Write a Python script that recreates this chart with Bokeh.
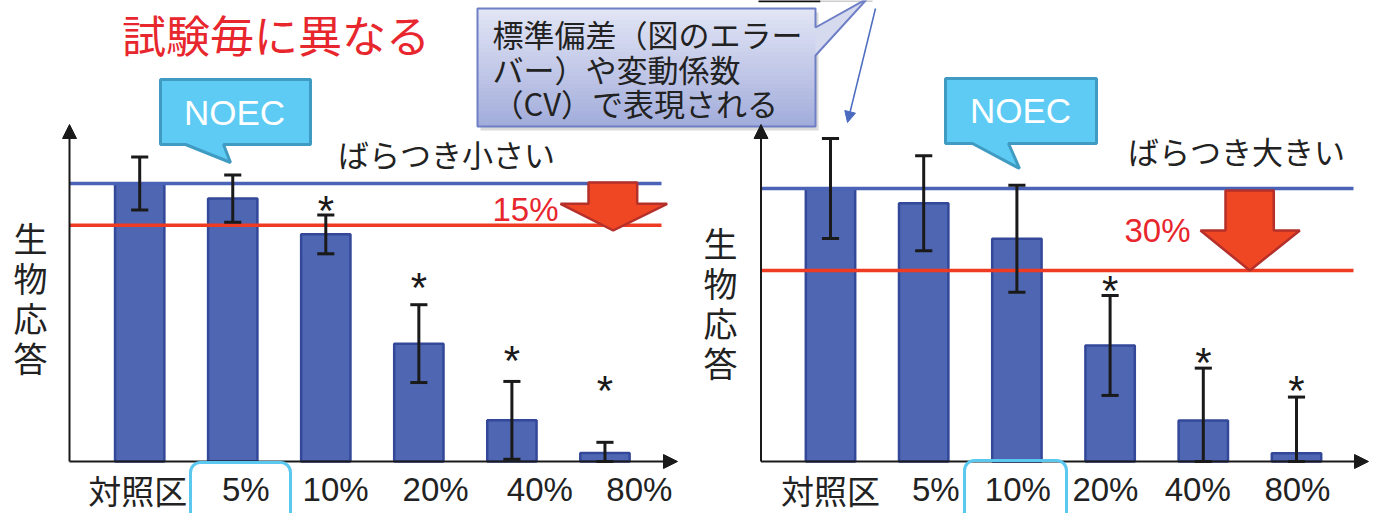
import numpy as np
from bokeh.plotting import figure
from bokeh.models import Range1d, Arrow, NormalHead, BoxAnnotation, ColumnDataSource
from bokeh.core.properties import value
from bokeh.embed import file_html
from bokeh.resources import INLINE

# ---------------- data ----------------
categories = ["対照区", "5%", "10%", "20%", "40%", "80%"]
mean_small = [100, 94.6, 81.7, 42.4, 14.8, 3.1]
sd_small = [9.5, 8.5, 7.0, 14.0, 14.0, 3.8]
star_small = [None, None, 92.8, 65.0, 38.8, 28.0]
mean_large = [100, 94.6, 81.6, 42.5, 15.0, 3.0]
sd_large = [18.3, 17.4, 19.6, 18.3, 19.2, 20.6]
star_large = [None, None, None, 65.2, 38.8, 28.6]
control_level = 100
threshold_small = 85   # 15% reduction
threshold_large = 70   # 30% reduction
ylabel_text = "生物応答"
title_text = "試験毎に異なる"
small_text = "ばらつき小さい"
large_text = "ばらつき大きい"
small_pct = "15%"
large_pct = "30%"
noec_text = "NOEC"
note_lines = ["標準偏差（図のエラー", "バー）や変動係数", "（CV）で表現される"]

# ---------------- layout / style ----------------
JP = "Noto Sans CJK JP"
LAT = "Liberation Sans"
BAR_FILL = "#4F67B2"
BAR_LINE = "#34489A"
BLUE_LINE = "#4A63B6"
RED_LINE = "#EE3B22"
TEXT = "#222222"
RED_TEXT = "#E8262D"

W, H = 1380, 513
X0, Y0 = 0, 0

p = figure(width=W, height=H, x_range=Range1d(X0, X0 + W), y_range=Range1d(Y0 + H, Y0),
           output_backend="svg", toolbar_location=None, min_border=0,
           x_axis_type=None, y_axis_type=None, outline_line_color=None,
           background_fill_color="white", border_fill_color="white")

panels = [
    dict(key="L", mean=mean_small, sd=sd_small, star=star_small, thr=threshold_small,
         x0=139.2, dx=93.05, base=461, sy=2.78, axis_x=69, axis_end=677, line_end=661,
         label_shift=[-0.02, 0.14, 0.105, 0.18, 0.30, 0.37], ylabel_x=30, ylabel_c=297,
         box=(190, 290, 462)),
    dict(key="R", mean=mean_large, sd=sd_large, star=star_large, thr=threshold_large,
         x0=830, dx=93.2, base=461, sy=2.73, axis_x=760.5, axis_end=1368, line_end=1353,
         label_shift=[0.0, 0.13, 0.01, -0.05, -0.06, 0.01], ylabel_x=720, ylabel_c=302,
         box=(964, 1066, 460)),
]

for pn in panels:
    k = pn["key"]
    xr, yr = k + "x", k + "y"
    p.extra_x_ranges[xr] = Range1d((X0 - pn["x0"]) / pn["dx"], (X0 + W - pn["x0"]) / pn["dx"])
    p.extra_y_ranges[yr] = Range1d((pn["base"] - (Y0 + H)) / pn["sy"], (pn["base"] - Y0) / pn["sy"])

    idx = np.arange(len(categories))
    mean = np.array(pn["mean"], dtype=float)
    sd = np.array(pn["sd"], dtype=float)
    lo = np.clip(mean - sd, 0, None)
    hi = mean + sd

    # bars
    p.vbar(x=idx, top=mean, bottom=0, width=0.53, fill_color=BAR_FILL, line_color=BAR_LINE,
           line_width=2.5, x_range_name=xr, y_range_name=yr)

    # axes
    p.add_layout(Arrow(x_start=pn["axis_x"], y_start=pn["base"], x_end=pn["axis_x"], y_end=124,
                       line_color="#1a1a1a", line_width=2,
                       end=NormalHead(size=14, fill_color="#1a1a1a", line_color="#1a1a1a")))
    p.add_layout(Arrow(x_start=pn["axis_x"], y_start=pn["base"], x_end=pn["axis_end"], y_end=pn["base"],
                       line_color="#1a1a1a", line_width=2,
                       end=NormalHead(size=14, fill_color="#1a1a1a", line_color="#1a1a1a")))

    # reference lines
    p.segment(x0=[pn["axis_x"]], x1=[pn["line_end"]], y0=[control_level], y1=[control_level],
              line_color=BLUE_LINE, line_width=3.5, y_range_name=yr)
    p.segment(x0=[pn["axis_x"]], x1=[pn["line_end"]], y0=[pn["thr"]], y1=[pn["thr"]],
              line_color=RED_LINE, line_width=3.5, y_range_name=yr)

    # error bars
    cap = 0.092
    p.segment(x0=idx, x1=idx, y0=lo, y1=hi, line_color="#1a1a1a", line_width=3,
              x_range_name=xr, y_range_name=yr)
    p.segment(x0=idx - cap, x1=idx + cap, y0=hi, y1=hi, line_color="#1a1a1a", line_width=3,
              x_range_name=xr, y_range_name=yr)
    p.segment(x0=idx - cap, x1=idx + cap, y0=lo, y1=lo, line_color="#1a1a1a", line_width=3,
              x_range_name=xr, y_range_name=yr)

    # asterisks
    sx = [i for i, s in enumerate(pn["star"]) if s is not None]
    syv = [s for s in pn["star"] if s is not None]
    p.text(x=sx, y=syv, text=["*"] * len(sx), text_font=value(LAT), text_font_size="42px",
           text_align="center", text_baseline="alphabetic", y_offset=7, text_color="#1a1a1a",
           x_range_name=xr, y_range_name=yr)

    # category labels
    src = ColumnDataSource(dict(
        x=idx + np.array(pn["label_shift"]), y=[489] * len(categories), t=categories,
        f=[JP if any(ord(c) > 255 for c in c_) else LAT for c_ in categories]))
    p.text(x="x", y="y", text="t", source=src, text_font="f", text_font_size="33px",
           text_align="center", text_baseline="middle", text_color=TEXT, x_range_name=xr)

    # y label (vertical)
    chars = list(ylabel_text)
    n = len(chars)
    p.text(x=[pn["ylabel_x"]] * n, y=[pn["ylabel_c"] + (j - (n - 1) / 2) * 40 for j in range(n)],
           text=chars, text_font=value(JP), text_font_size="34px", text_align="center",
           text_baseline="middle", text_color=TEXT)

    # highlighted label box
    b = pn["box"]
    p.add_layout(BoxAnnotation(left=b[0], right=b[1], top=b[2], bottom=b[2] + 80,
                               border_radius=10, fill_alpha=0, line_color="#5BC8F0",
                               line_alpha=1.0, line_width=3))

# red down arrows
arrows = [
    [(588, 182), (636.7, 182), (636.7, 203.3), (666.7, 203.3), (612.7, 230), (560, 203.3), (588, 203.3)],
    [(1225, 190), (1273.3, 190), (1273.3, 230), (1299.3, 230), (1249.3, 270), (1200, 230), (1225, 230)],
]
for a in arrows:
    p.patch(x=[v[0] for v in a], y=[v[1] for v in a], fill_color="#EF4623",
            line_color="#B5302A", line_width=2.5)

# percentage texts
p.text(x=[525, 1157], y=[209, 229.5], text=[small_pct, large_pct], text_font=value(LAT),
       text_font_size="33px", text_align="center", text_baseline="middle", text_color=RED_TEXT)

# variability texts
p.text(x=[446, 1236], y=[153, 150], text=[small_text, large_text], text_font=value(JP),
       text_font_size="31px", text_align="center", text_baseline="middle", text_color=TEXT)

# title
p.text(x=[275.5], y=[33], text=[title_text], text_font=value(JP), text_font_size="44px",
       text_align="center", text_baseline="middle", text_color=RED_TEXT)

# NOEC callouts
callouts = [
    [(160, 79), (310, 79), (310, 144), (223, 144), (230, 162), (185, 144), (160, 144)],
    [(945, 78), (1096, 78), (1096, 143), (1008, 143), (1019, 168), (972, 143), (945, 143)],
]
for c in callouts:
    p.patch(x=[v[0] for v in c], y=[v[1] for v in c], fill_color="#5DCBF3",
            line_color="#3F9BC2", line_width=3)
p.text(x=[234, 1020], y=[111.5, 110], text=[noec_text] * 2, text_font=value(LAT),
       text_font_size="35px", text_align="center", text_baseline="middle", text_color="white")

# fragment of element cut off at the top edge
p.segment(x0=[758], x1=[820], y0=[0.5], y1=[0.5], line_color="#111111", line_width=2.5)
p.segment(x0=[820], x1=[872], y0=[0.5], y1=[0.5], line_color="#cccccc", line_width=2)

# note callout with gradient
bx0, bx1, by0, by1 = 477, 815, 8, 126
outline = [(bx0, by0), (bx1, by0), (bx1, 27), (867, -2), (bx1, 55), (bx1, by1), (bx0, by1)]
p.quad(left=[bx0 + 3], right=[bx1 + 3], top=[by0 + 4], bottom=[by1 + 4],
       fill_color="#888888", fill_alpha=0.3, line_color=None)
p.patch(x=[v[0] for v in outline], y=[v[1] for v in outline], fill_color="#D6DAEF", line_color=None)


def lerp(c1, c2, t):
    a = [int(c1[i:i + 2], 16) for i in (1, 3, 5)]
    b2 = [int(c2[i:i + 2], 16) for i in (1, 3, 5)]
    return "#%02x%02x%02x" % tuple(round(a[i] + (b2[i] - a[i]) * t) for i in range(3))


nb = 30
hb = (by1 - by0) / nb
p.quad(left=[bx0] * nb, right=[bx1] * nb,
       top=[by0 + i * hb for i in range(nb)], bottom=[by0 + (i + 1) * hb + 0.5 for i in range(nb)],
       fill_color=[lerp("#E2E5F5", "#A3ADDB", i / (nb - 1)) for i in range(nb)], line_color=None)
p.patch(x=[v[0] for v in outline], y=[v[1] for v in outline], fill_alpha=0,
        line_color="#6E7FC6", line_width=2)
p.text(x=[492] * 3, y=[33, 68, 102], text=note_lines, text_font=value(JP), text_font_size="31px",
       text_align="left", text_baseline="middle", text_color=TEXT)

p.add_layout(Arrow(x_start=875, y_start=8, x_end=847, y_end=122, line_color="#4A6BC0", line_width=1.5,
                   end=NormalHead(size=11, fill_color="#4A6BC0", line_color="#4A6BC0")))

open("out.html", "w").write(file_html(p, INLINE))
